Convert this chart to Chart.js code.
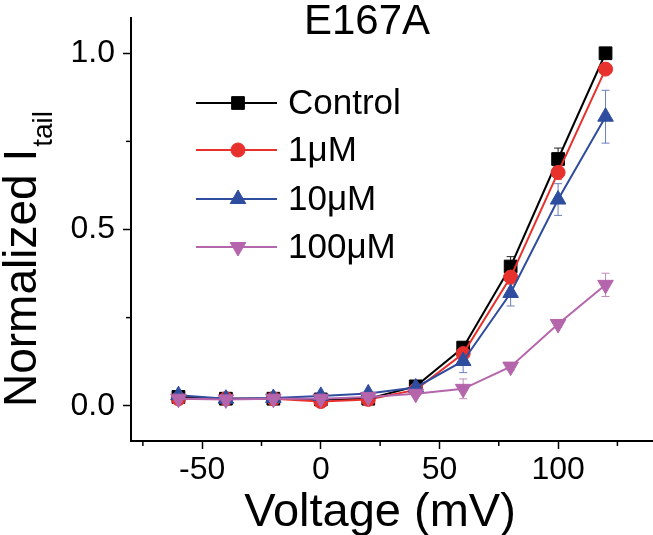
<!DOCTYPE html>
<html>
<head>
<meta charset="utf-8">
<script src="https://cdn.jsdelivr.net/npm/chart.js@4"></script>
<style>
  body { margin: 0; background: #fff; }
  canvas { display: block; }
</style>
</head>
<body>
<canvas id="myChart" width="653" height="535"></canvas>
<script>
// test voltages (mV)
let voltages = [-60, -40, -20, 0, 20, 40, 60, 80, 100, 120];

// normalized tail currents
let control = [0.025, 0.02, 0.02, 0.018, 0.02, 0.055, 0.165, 0.395, 0.70, 1.0];
let uM1 = [0.02, 0.02, 0.02, 0.012, 0.018, 0.045, 0.148, 0.365, 0.662, 0.955];
let uM10 = [0.03, 0.02, 0.022, 0.028, 0.035, 0.052, 0.127, 0.32, 0.585, 0.82];
let uM100 = [0.02, 0.018, 0.02, 0.02, 0.025, 0.034, 0.048, 0.111, 0.232, 0.343];

// SEM for each point
let controlErr = [0.005, 0.005, 0.005, 0.005, 0.005, 0.008, 0.012, 0.028, 0.031, 0.01];
let uM1Err = [0.005, 0.005, 0.005, 0.005, 0.005, 0.008, 0.012, 0.02, 0.02, 0.01];
let uM10Err = [0.005, 0.005, 0.005, 0.005, 0.005, 0.008, 0.033, 0.037, 0.045, 0.075];
let uM100Err = [0.005, 0.005, 0.005, 0.005, 0.005, 0.008, 0.028, 0.01, 0.01, 0.033];

let seriesNames = ['Control', '1\u03bcM', '10\u03bcM', '100\u03bcM'];

// axis ticks
let xTicks = [-50, 0, 50, 100];
let xMinorTicks = [-75, -25, 25, 75, 125];
let yTicks = [0, 0.5, 1.0];
let yMinorTicks = [0.25, 0.75];

let font = "Arial, 'Liberation Sans', sans-serif";

let values = [control, uM1, uM10, uM100];
let errors = [controlErr, uM1Err, uM10Err, uM100Err];
let colors = ['#000000', '#e8302c', '#2f4d9e', '#b565ab'];
let errColors = ['#222222', '#e8605c', '#6a7fc0', '#c38ab9'];
let styles = [
	{ pointStyle: 'rect', radius: 9, rotation: 0 },
	{ pointStyle: 'circle', radius: 7, rotation: 0 },
	{ pointStyle: 'triangle', radius: 9, rotation: 0 },
	{ pointStyle: 'triangle', radius: 9, rotation: 180 },
];

let datasets = values.map((vals, i) => ({
	label: seriesNames[i],
	data: voltages.map((v, j) => ({ x: v, y: vals[j] })),
	borderColor: colors[i],
	backgroundColor: colors[i],
	borderWidth: 2,
	pointStyle: styles[i].pointStyle,
	pointRadius: styles[i].radius,
	pointRotation: styles[i].rotation,
	pointBorderWidth: 1,
	pointBackgroundColor: colors[i],
	pointBorderColor: colors[i],
	order: 4 - i,
}));

// error bars drawn under the lines
let errorBars = {
	id: 'errorBars',
	beforeDatasetsDraw(chart) {
		let ctx = chart.ctx;
		let xs = chart.scales.x;
		let ys = chart.scales.y;
		ctx.save();
		ctx.lineWidth = 1;
		values.forEach((vals, i) => {
			ctx.strokeStyle = errColors[i];
			vals.forEach((val, j) => {
				let px = xs.getPixelForValue(voltages[j]);
				let top = ys.getPixelForValue(val + errors[i][j]);
				let bot = ys.getPixelForValue(val - errors[i][j]);
				ctx.beginPath();
				ctx.moveTo(px, top);
				ctx.lineTo(px, bot);
				ctx.moveTo(px - 4, top);
				ctx.lineTo(px + 4, top);
				ctx.moveTo(px - 4, bot);
				ctx.lineTo(px + 4, bot);
				ctx.stroke();
			});
		});
		ctx.restore();
	},
};

// minor ticks, titles and the legend
let decorations = {
	id: 'decorations',
	afterDraw(chart) {
		let ctx = chart.ctx;
		let xs = chart.scales.x;
		let ys = chart.scales.y;
		let area = chart.chartArea;
		ctx.save();
		ctx.strokeStyle = '#000';
		ctx.lineWidth = 1.5;
		xMinorTicks.forEach((v) => {
			let px = xs.getPixelForValue(v);
			ctx.beginPath();
			ctx.moveTo(px, area.bottom);
			ctx.lineTo(px, area.bottom + 5);
			ctx.stroke();
		});
		yMinorTicks.forEach((v) => {
			let py = ys.getPixelForValue(v);
			ctx.beginPath();
			ctx.moveTo(area.left, py);
			ctx.lineTo(area.left - 5, py);
			ctx.stroke();
		});

		ctx.fillStyle = '#000';
		ctx.textBaseline = 'alphabetic';

		// panel title
		ctx.font = '42px ' + font;
		ctx.textAlign = 'center';
		ctx.fillText('E167A', 367, 34);

		// x axis title
		ctx.font = '47px ' + font;
		ctx.fillText('Voltage (mV)', 380, 526);

		// y axis title with subscript
		ctx.save();
		ctx.translate(36, 407);
		ctx.rotate(-Math.PI / 2);
		ctx.textAlign = 'left';
		ctx.font = '46px ' + font;
		ctx.fillText('Normalized I', 0, 0);
		let w = ctx.measureText('Normalized I').width;
		ctx.font = '28px ' + font;
		ctx.fillText('tail', w + 2, 16);
		ctx.restore();

		// legend
		let rowY = [103, 150, 199, 247];
		ctx.textAlign = 'left';
		ctx.textBaseline = 'middle';
		ctx.font = '35px ' + font;
		values.forEach((vals, i) => {
			let y = rowY[i];
			ctx.strokeStyle = colors[i];
			ctx.lineWidth = 2;
			ctx.beginPath();
			ctx.moveTo(196, y);
			ctx.lineTo(277, y);
			ctx.stroke();
			ctx.fillStyle = colors[i];
			ctx.strokeStyle = colors[i];
			ctx.lineWidth = 1;
			Chart.helpers.drawPoint(ctx, {
				pointStyle: styles[i].pointStyle,
				radius: styles[i].radius,
				rotation: styles[i].rotation,
				borderWidth: 1,
			}, 238, y);
			ctx.fillStyle = '#000';
			ctx.fillText(seriesNames[i], 288, y + 1);
		});
		ctx.restore();
	},
};

let ctx = document.getElementById('myChart').getContext('2d');
new Chart(ctx, {
	type: 'line',
	data: { datasets: datasets },
	options: {
		responsive: false,
		devicePixelRatio: 1,
		animation: false,
		layout: { autoPadding: false, padding: { top: 18, left: 0, right: 0, bottom: 0 } },
		plugins: {
			legend: { display: false },
			tooltip: { enabled: false },
		},
		scales: {
			x: {
				type: 'linear',
				min: -80,
				max: 140,
				afterBuildTicks: (scale) => {
					scale.ticks = xTicks.map((v) => ({ value: v }));
				},
				afterFit: (scale) => {
					scale.height = 94;
					scale.paddingLeft = 0;
					scale.paddingRight = 0;
				},
				border: { display: true, color: '#000', width: 2 },
				grid: { drawOnChartArea: false, tickLength: 8, color: '#000', tickWidth: 1.5 },
				ticks: {
					color: '#000',
					padding: 2,
					maxRotation: 0,
					font: { family: font, size: 32 },
				},
			},
			y: {
				min: -0.1,
				max: 1.1,
				afterBuildTicks: (scale) => {
					scale.ticks = yTicks.map((v) => ({ value: v }));
				},
				afterFit: (scale) => {
					scale.width = 131;
					scale.paddingTop = 0;
					scale.paddingBottom = 0;
				},
				border: { display: true, color: '#000', width: 2 },
				grid: { drawOnChartArea: false, tickLength: 8, color: '#000', tickWidth: 1.5 },
				ticks: {
					color: '#000',
					padding: 8,
					font: { family: font, size: 32 },
					callback: (v) => v.toFixed(1),
				},
			},
		},
	},
	plugins: [errorBars, decorations],
});
</script>
</body>
</html>
